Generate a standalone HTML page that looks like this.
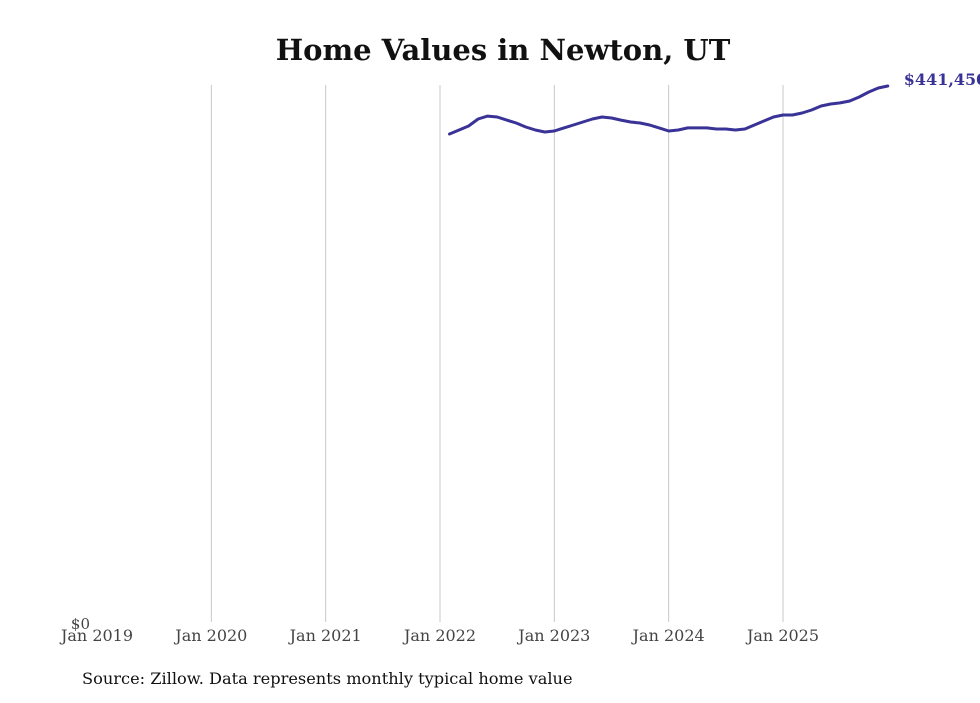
<!DOCTYPE html>
<html><head><meta charset="utf-8"><style>
body{margin:0;background:#fff;width:980px;height:699px;overflow:hidden;font-family:"DejaVu Serif","Liberation Serif",serif}
</style></head><body>
<svg id="chart" width="980" height="699" xmlns="http://www.w3.org/2000/svg">
<text x="503" y="60" text-anchor="middle" font-size="29" font-weight="bold" fill="#111" font-family="DejaVu Serif, Liberation Serif, serif">Home Values in Newton, UT</text>
<g id="grid"></g><g id="xlabels"></g>
<text x="90" y="629" text-anchor="end" font-size="15" fill="#444">$0</text>
<path id="line" fill="none" stroke="#3a3397" stroke-width="3" stroke-linejoin="round" stroke-linecap="round"/>
<text id="endlabel" font-size="16" font-weight="bold" fill="#3a3397"></text>
<text x="82" y="684" font-size="16.2" fill="#111">Source: Zillow. Data represents monthly typical home value</text>
</svg>
<script>
const yearLabels=["Jan 2019","Jan 2020","Jan 2021","Jan 2022","Jan 2023","Jan 2024","Jan 2025"];
const startMonthIndex=37; // months since Jan 2019 (Feb 2022)
const values=[401900,405200,408500,414300,416700,415900,413400,411000,407700,405200,403600,404400,406900,409300,411800,414300,415900,415100,413400,411800,411000,409300,406900,404400,405200,406900,406900,406900,406000,406000,405200,406000,409300,412600,415900,417600,417600,419200,421700,425000,426600,427500,429100,432400,436500,439800,441450];
const latestLabel="$441,450";
const yMax=441450;
const x=m=>97+m*(686/72);
const y=v=>622-v/yMax*536;
const svg=document.getElementById('chart'),ns="http://www.w3.org/2000/svg";
const g=document.getElementById('grid'),xl=document.getElementById('xlabels');
yearLabels.forEach((t,i)=>{
 const px=x(i*12);
 if(i>0){const l=document.createElementNS(ns,'line');
 
 
 l.setAttribute('x1',px);l.setAttribute('x2',px);l.setAttribute('y1',85);l.setAttribute('y2',622);
 l.setAttribute('stroke','#c8c8c8');l.setAttribute('stroke-width','1');g.appendChild(l);}
 const tx=document.createElementNS(ns,'text');
 
 
 tx.setAttribute('x',px);tx.setAttribute('y',641);tx.setAttribute('text-anchor','middle');
 tx.setAttribute('font-size','16');tx.setAttribute('fill','#444');tx.textContent=t;xl.appendChild(tx);
});
let d='';values.forEach((v,i)=>{d+=(i?'L':'M')+x(startMonthIndex+i).toFixed(1)+','+y(v).toFixed(1);});
document.getElementById('line').setAttribute('d',d);
const last=values.length-1,el=document.getElementById('endlabel');
el.setAttribute('x',x(startMonthIndex+last)+16);el.setAttribute('y',y(values[last])-1);
el.textContent=latestLabel;
</script>
</body></html>
